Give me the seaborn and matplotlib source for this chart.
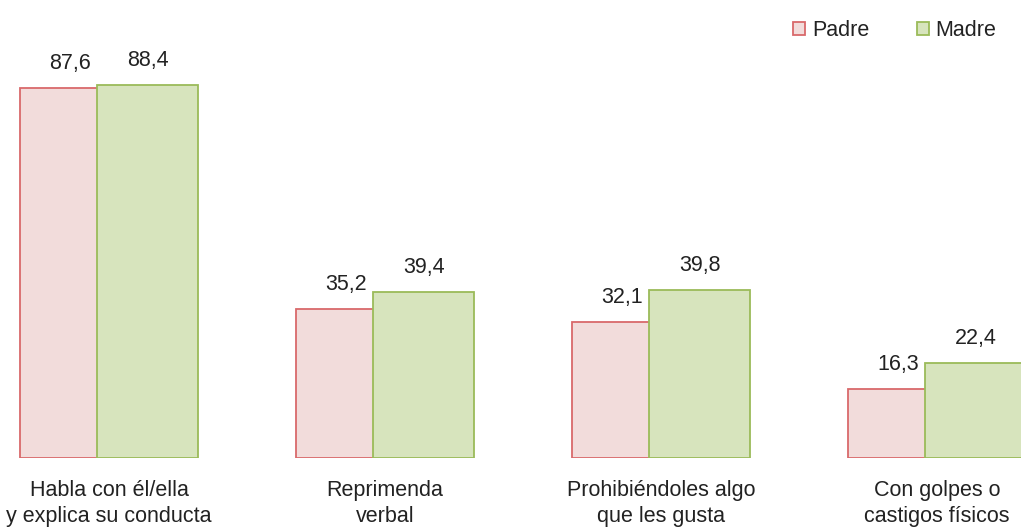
import pandas as pd
import matplotlib
matplotlib.use("Agg")
import matplotlib.pyplot as plt
from matplotlib.patches import Patch
import seaborn as sns

# ── data ─────────────────────────────────────────────────────────────────────
categories = ["Habla con él/ella\ny explica su conducta", "Reprimenda\nverbal",
              "Prohibiéndoles algo\nque les gusta", "Con golpes o\ncastigos físicos"]
padre = [87.6, 35.2, 32.1, 16.3]
madre = [88.4, 39.4, 39.8, 22.4]
series = ["Padre", "Madre"]

df = pd.DataFrame({
    "Categoria": categories * 2,
    "Valor": padre + madre,
    "Serie": ["Padre"] * len(padre) + ["Madre"] * len(madre),
})

sns.set_theme(style="white")
plt.rcParams["font.family"] = ["Liberation Sans Narrow", "Liberation Sans", "DejaVu Sans"]

fill = {"Padre": "#F2DCDB", "Madre": "#D7E4BD"}
edge = {"Padre": "#D9696B", "Madre": "#9BBB59"}
BAR_W = 0.366
FS = 15.5
TXT = "#222222"

fig = plt.figure(figsize=(10.21, 5.29), dpi=100)
ax = fig.add_axes([0, 71 / 529, 1, 458 / 529])

sns.barplot(data=df, x="Categoria", y="Valor", hue="Serie", hue_order=series,
            palette=fill, width=0.56, saturation=1, legend=False, ax=ax)

# overlapping bars, like the original chart
for cont, s in zip(ax.containers, series):
    for p in cont.patches:
        cx = p.get_x() + p.get_width() / 2
        p.set_width(BAR_W)
        p.set_x(cx - BAR_W / 2)
        p.set_edgecolor(edge[s])
        p.set_linewidth(1.3)
    ax.bar_label(cont, labels=[f"{v:.1f}".replace(".", ",") for v in cont.datavalues],
                 padding=10, fontsize=FS, color=TXT)

ax.set_xlim(-0.395, 3.304)
ax.set_ylim(0, 108.4)
ax.set_yticks([])
ax.set_xlabel(""); ax.set_ylabel("")
ax.tick_params(axis="x", length=0, pad=16, labelsize=FS, labelcolor=TXT)
for t in ax.get_xticklabels():
    t.set_linespacing(1.3)
sns.despine(ax=ax, left=True, bottom=True)

handles = [Patch(facecolor=fill[s], edgecolor=edge[s], linewidth=1.3, label=s) for s in series]
fig.legend(handles=handles, loc="upper left", bbox_to_anchor=(793 / 1021, 1 - 20 / 529),
           ncol=2, frameon=False, fontsize=FS, handlelength=0.58, handleheight=0.58,
           handletextpad=0.3, columnspacing=2.2, borderpad=0, borderaxespad=0,
           labelcolor=TXT)

fig.savefig("out.png", dpi=100)
